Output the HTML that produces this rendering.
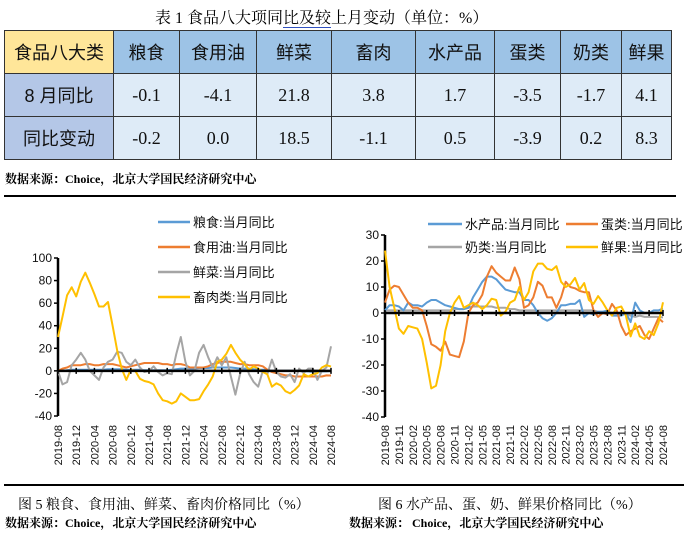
<!DOCTYPE html>
<html><head><meta charset="utf-8">
<style>
body{margin:0;width:689px;height:541px;background:#fff;position:relative;overflow:hidden;font-family:"Liberation Serif","Noto Serif CJK SC","Noto Sans CJK SC",serif;}
.abs{position:absolute;white-space:nowrap;}
table{position:absolute;left:4px;top:30px;border-collapse:collapse;table-layout:fixed;}
td{border:1px solid #333;text-align:center;padding:0;font-size:18px;color:#111;}
.hd{background:#9DC3E6;height:42px;font-family:"Liberation Sans","Noto Sans CJK SC",sans-serif;}
.hy{background:#FFE699;}
.rl{background:#B4C7E7;height:42px;font-family:"Liberation Sans","Noto Sans CJK SC",sans-serif;}
.dc{background:#DEEBF7;font-family:"Liberation Serif",serif;font-size:18px;}
.src{font-size:12px;font-weight:bold;font-family:"Liberation Serif","Noto Serif CJK SC",serif;}
.cap{font-size:14px;}
svg text{font-family:"Liberation Sans","Noto Sans CJK SC",sans-serif;}
</style></head><body>
<div class="abs" style="left:155px;top:5px;font-size:16px;">表 1  食品八大项同<span style="border-bottom:1.5px solid #3050c0">比及较</span>上月变动（单位：%）</div>
<table>
<colgroup><col style="width:109px"><col style="width:66px"><col style="width:77px"><col style="width:75px"><col style="width:84px"><col style="width:79px"><col style="width:66px"><col style="width:61px"><col style="width:50px"></colgroup>
<tr><td class="hd hy">食品八大类</td><td class="hd">粮食</td><td class="hd">食用油</td><td class="hd">鲜菜</td><td class="hd">畜肉</td><td class="hd">水产品</td><td class="hd">蛋类</td><td class="hd">奶类</td><td class="hd">鲜果</td></tr>
<tr><td class="rl">8 月同比</td><td class="dc">-0.1</td><td class="dc">-4.1</td><td class="dc">21.8</td><td class="dc">3.8</td><td class="dc">1.7</td><td class="dc">-3.5</td><td class="dc">-1.7</td><td class="dc">4.1</td></tr>
<tr><td class="rl">同比变动</td><td class="dc">-0.2</td><td class="dc">0.0</td><td class="dc">18.5</td><td class="dc">-1.1</td><td class="dc">0.5</td><td class="dc">-3.9</td><td class="dc">0.2</td><td class="dc">8.3</td></tr>
</table>
<div class="abs src" style="left:5px;top:170px;">数据来源：Choice，北京大学国民经济研究中心</div>
<div class="abs" style="left:4px;top:195px;width:672px;height:2px;background:#000"></div>
<div class="abs" style="left:4px;top:484px;width:680px;height:2px;background:#000"></div>
<div class="abs cap" style="left:18px;top:494px;">图 5  粮食、食用油、鲜菜、畜肉价格同比（%）</div>
<div class="abs cap" style="left:378px;top:494px;">图 6 水产品、蛋、奶、鲜果价格同比（%）</div>
<div class="abs src" style="left:5px;top:514px;">数据来源：Choice，北京大学国民经济研究中心</div>
<div class="abs src" style="left:349px;top:514px;">数据来源： Choice，北京大学国民经济研究中心</div>
<svg id="c1" class="abs" style="left:0;top:200px" width="345" height="280"></svg>
<svg id="c2" class="abs" style="left:345px;top:200px" width="344" height="280"></svg>
<script>
const grain=[0,0,0.5,1,1, 1,1,1,1,1,1,1.5,1.5,1.5,1.5,1,1, 1,1,0.5,0.5,0.5,0.5,0.5,0.5,1,1.5,2,2, 2,2,2.5,2.5,2.5,3,3,3,3,3,2.5,2, 2,2,1.5,1,1,0.5,0,0,0,0,0,0, 0,-0.5,-0.5,-1,-1,-0.5,-0.5,-0.1];
const oil=[0,2,3,5,5, 5,6,6,5,5,6,6,6,5,4,3,4, 5,6,7,7,7,7,6,6,5,6,6,5, 3,3,3,3,4,6,7,8,8,8,7,6, 6,5,5,5,4,1,-1,-2,-3,-4,-4,-5, -5,-5,-5,-5,-5,-5,-4,-4.1];
const veg=[0,-12,-10,5,10, 16,10,0,-4,-8,3,8,10,17,16,8,5, 10,3,-1,0,4,-1,-4,-2,-3,15,30,8, -4,0,16,23,12,3,12,5,12,-5,-21,-3, 8,-3,-10,-14,0,-3,10,-1,-5,-6,-3,-10, 2,-2,2,2,-8,0,3,21.8];
const pork=[30,48,67,74,66, 79,87,78,68,57,57,61,40,18,2,-8,1, 0,-7,-9,-10,-12,-20,-26,-27,-29,-27,-20,-23, -26,-26,-25,-18,-12,-5,8,10,15,23,16,10, 6,1,4,2,-1,-3,-14,-11,-13,-18,-20,-17, -13,-3,-5,-3,-2,3,5,3.8];
const aqua=[1,3,3,2.5,1, 4,3,3,2.5,4,5,5,4,3,2.5,2,1.5, 1.5,2,6,9,12,14,14,13,11,9,8.5,8, 8,5,5,3,0,-2,-3,-2,0,3,3,3.5, 3.5,5,-1.5,0,-0.5,0.5,0.5,1,-1,-1,-1,0, -3.5,4,1,0,0,1,1,1.7];
const egg=[4,9,10.5,10,7, 4,2,2,1,-5,-12,-13,-14.5,-11,-16,-16.5,-17, -11,0,3,4,7,14,18,15.5,14,12.5,12.5,17.5, 13,2,3,6,12,10.5,6,6,2,6,12,10, 9.5,8.5,8,8,1,-1.5,0,-0.5,3.5,1,-5,-8.5, -7,-6,-5,-8.5,-10,-6,-2,-3.5];
const milk=[1,1,1,1,1, 1,1,1,1,1,1,1,1,1,1,1.5,1.5, 1.5,2,2.5,2.5,2.5,2.5,2.5,2,2,2,1.5,1.5, 1,1,1,1,1,1,1,1,1,1,1,1, 1,1,1,1,1,0.5,0.5,0.5,0,0,-0.5,-0.5, -1,-1.5,-1,-1.5,-1.5,-1.5,-1.5,-1.7];
const fruit=[24,10,2,-6,-8, -5,-5.5,-6,-10,-19,-29,-28,-20,-7,0,4,6.5, 2,3,4,3,1.5,3,5.5,5,-1,0.5,4,5, 10,5,8,16,19,19,17,16.5,18,12,10,11, 13.5,9,11.5,5,3.5,6.5,4,1,-1,2,2.5,-1, -9,-4,-9,-10,-7,-8.5,-4,4.1];
const ticks1=[-40,-20,0,20,40,60,80,100];
const ticks2=[-40,-30,-20,-10,0,10,20,30];
const NS='http://www.w3.org/2000/svg';
function months(){const a=[];for(let i=0;i<61;i++){const m=(7+i)%12+1,y=2019+Math.floor((7+i)/12);a.push(y+'-'+String(m).padStart(2,'0'));}return a;}
const cats=months();
function mk(svg,tag,at){const e=document.createElementNS(NS,tag);for(const k in at)e.setAttribute(k,at[k]);svg.appendChild(e);return e;}
function draw(id,cfg){
 const svg=document.getElementById(id);
 const x=i=>cfg.x0+(cfg.x1-cfg.x0)*i/(cats.length-1);
 const y=v=>cfg.y0+(cfg.yMax-v)/(cfg.yMax-cfg.yMin)*(cfg.y1-cfg.y0);
 ticks=cfg.ticks;
 ticks.forEach(t=>{const tx=mk(svg,'text',{x:cfg.x0-6,y:y(t)+4,'text-anchor':'end','font-size':12,fill:'#111','font-family':cfg.tf});tx.textContent=t;
  
  
  const tk=mk(svg,'line',{x1:cfg.x0-4,x2:cfg.x0,y1:y(t),y2:y(t),stroke:'#000','stroke-width':1.5});
  
  });
 const ax=mk(svg,'line',{x1:cfg.x0,x2:cfg.x0,y1:y(cfg.yMax),y2:y(cfg.yMin),stroke:'#000','stroke-width':2.5});
 
 
 cfg.series.forEach(s=>{const d=s.data.map((v,i)=>(i?'L':'M')+x(i).toFixed(1)+' '+y(v).toFixed(1)).join('');
  const p=mk(svg,'path',{d:d,fill:'none',stroke:s.c,'stroke-width':2,'stroke-linejoin':'round'});
  
  });
 const zl=mk(svg,'line',{x1:cfg.x0,x2:cfg.x1,y1:y(0),y2:y(0),stroke:'#000','stroke-width':2.5});
 
 
 for(let i=0;i<cats.length;i+=cfg.step){
  const tk=mk(svg,'line',{x1:x(i),x2:x(i),y1:y(0)-3,y2:y(0)+3,stroke:'#000','stroke-width':1.5});
  
  
  const tx=mk(svg,'text',{x:0,y:0,'text-anchor':'end','font-size':11,fill:'#111','font-family':cfg.tf,transform:`translate(${x(i)+4},${cfg.lblY}) rotate(-90)`});
  tx.textContent=cats[i];
  
  }
 cfg.legend.forEach(l=>{const ln=mk(svg,'line',{x1:l.x,x2:l.x+l.w,y1:l.y,y2:l.y,stroke:l.c,'stroke-width':2.5});
  
  
  const t=mk(svg,'text',{x:l.x+l.w+3,y:l.y+5,'font-size':13,fill:'#111'});t.textContent=l.t;
  
  });
}
draw('c1',{x0:58,x1:331,y0:58,y1:216,yMax:100,yMin:-40,ticks:ticks1,step:4,lblY:225,tf:'"Liberation Serif",serif',
 series:[{n:'grain-line',data:grain,c:'#5B9BD5'},{n:'oil-line',data:oil,c:'#ED7D31'},{n:'vegetable-line',data:veg,c:'#A5A5A5'},{n:'pork-line',data:pork,c:'#FFC000'}],
 legend:[{x:158,y:22,w:32,c:'#5B9BD5',t:'粮食:当月同比'},{x:158,y:47,w:32,c:'#ED7D31',t:'食用油:当月同比'},{x:158,y:72,w:32,c:'#A5A5A5',t:'鲜菜:当月同比'},{x:158,y:97,w:32,c:'#FFC000',t:'畜肉类:当月同比'}]});
draw('c2',{x0:40,x1:318,y0:35,y1:217,yMax:30,yMin:-40,ticks:ticks2,step:3,lblY:225,tf:'"Liberation Sans",sans-serif',
 series:[{n:'milk-line',data:milk,c:'#A5A5A5'},{n:'aquatic-line',data:aqua,c:'#5B9BD5'},{n:'egg-line',data:egg,c:'#ED7D31'},{n:'fruit-line',data:fruit,c:'#FFC000'}],
 legend:[{x:83,y:24,w:34,c:'#5B9BD5',t:'水产品:当月同比'},{x:221,y:24,w:32,c:'#ED7D31',t:'蛋类:当月同比'},{x:83,y:47,w:34,c:'#A5A5A5',t:'奶类:当月同比'},{x:221,y:47,w:32,c:'#FFC000',t:'鲜果:当月同比'}]});
</script>
</body></html>
